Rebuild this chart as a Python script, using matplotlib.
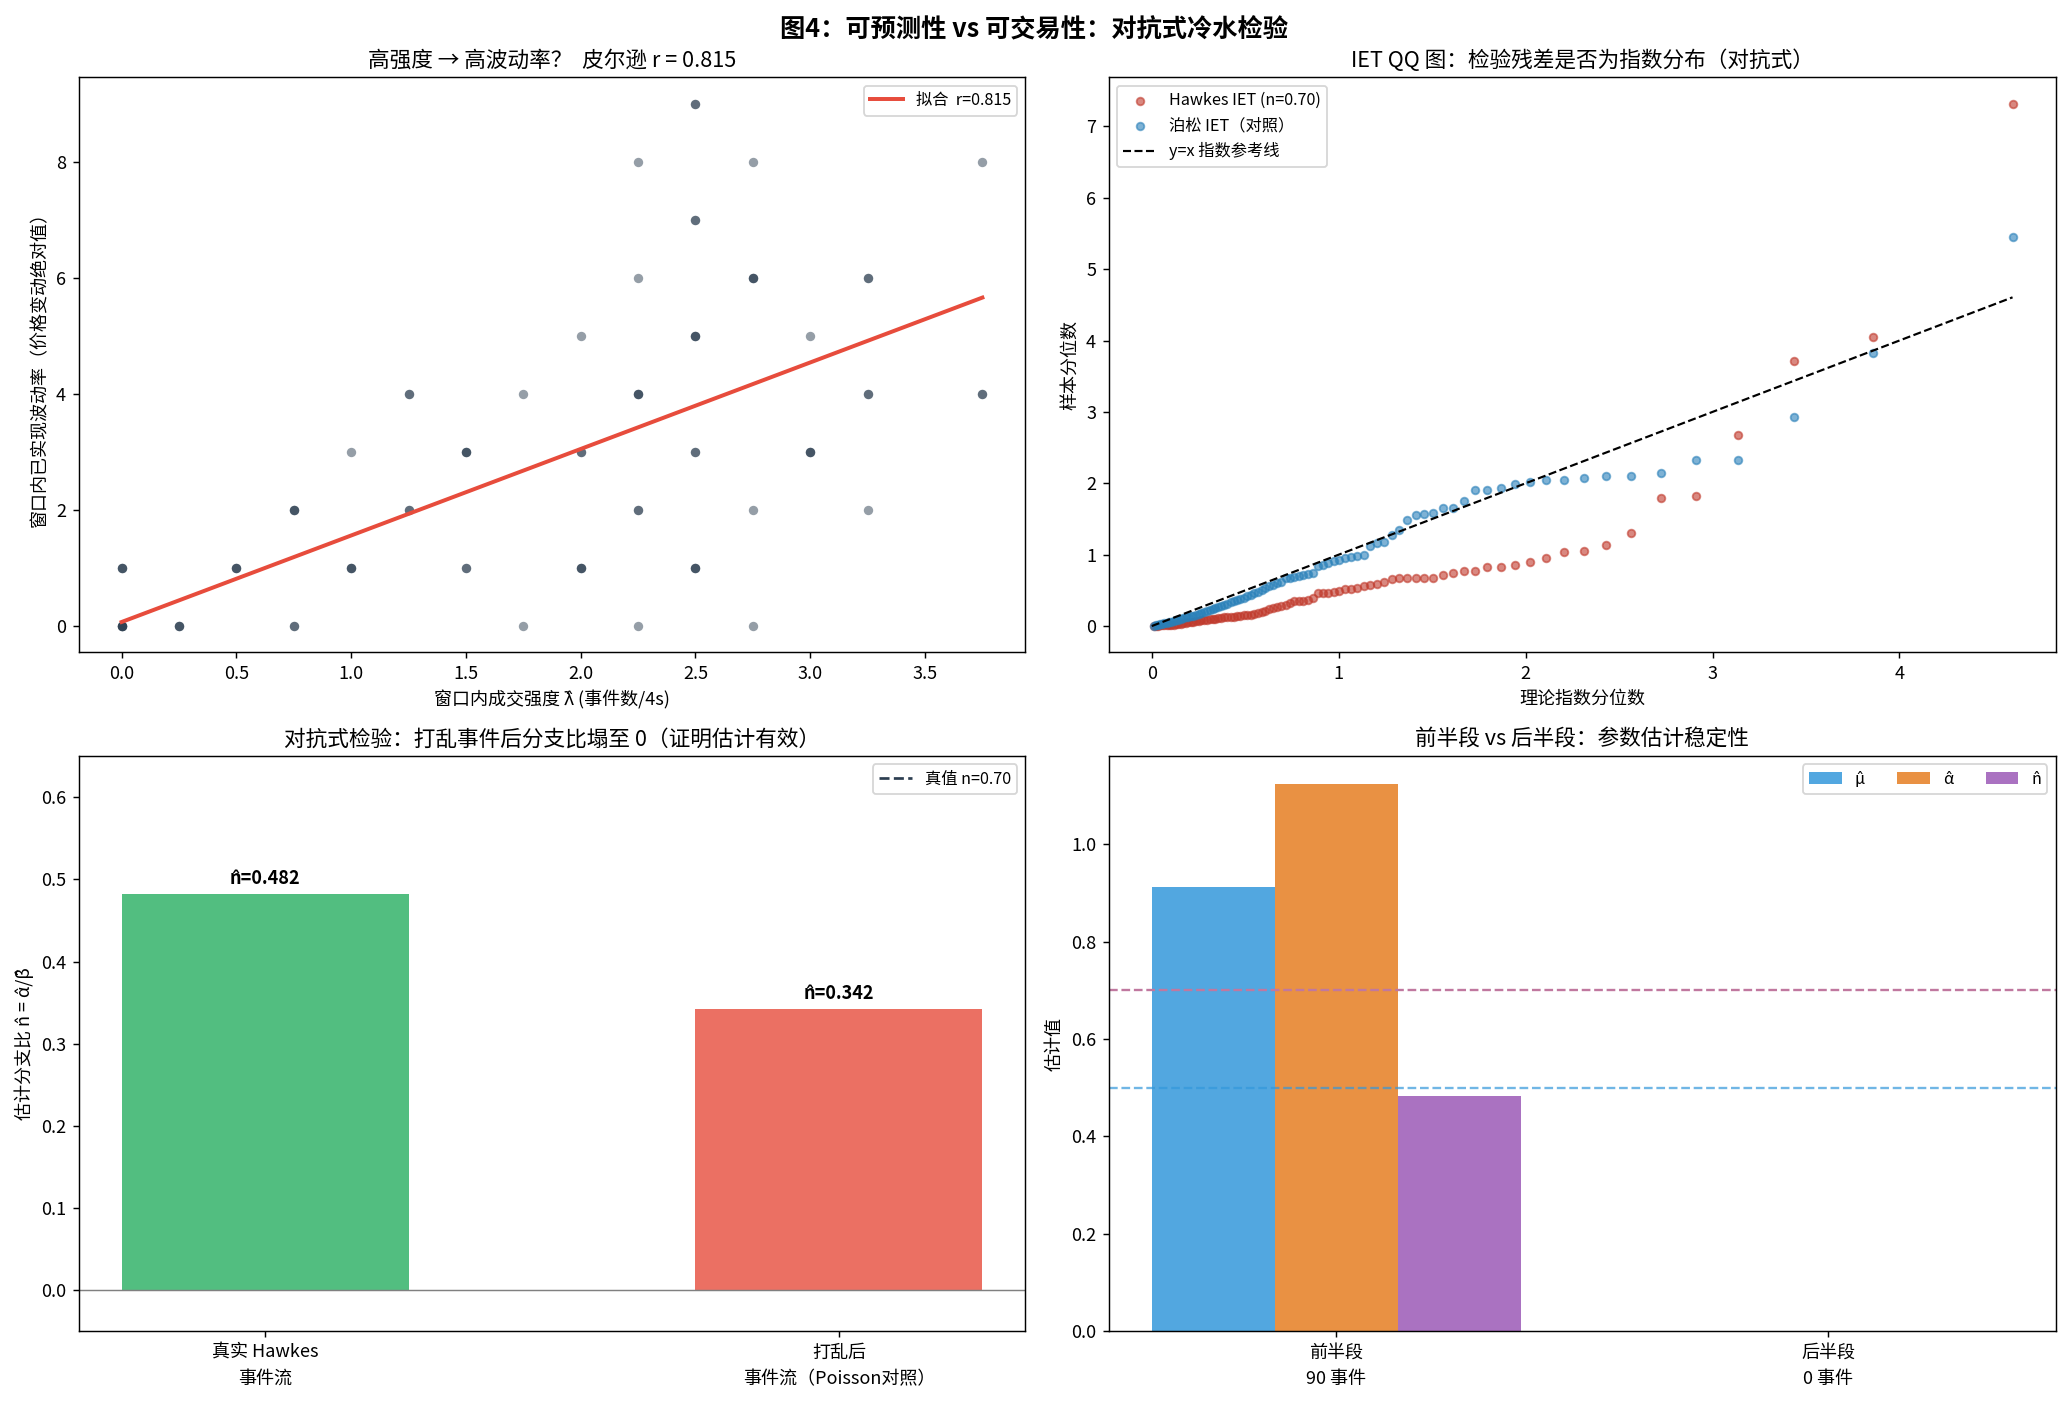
import numpy as np
import matplotlib
matplotlib.use("Agg")
from matplotlib import pyplot as plt

plt.rcParams['font.family'] = ['Noto Sans CJK SC', 'DejaVu Sans']
plt.rcParams['axes.unicode_minus'] = False

# ---------- panel 1: intensity vs realised volatility ----------
lam_vals = [0, 0, 0.25, 0.5, 0.75, 0.75, 1.0, 1.0, 1.25, 1.25, 1.5, 1.5, 1.75, 1.75,
            2.0, 2.0, 2.0, 2.25, 2.25, 2.25, 2.25, 2.25, 2.5, 2.5, 2.5, 2.5, 2.5,
            2.75, 2.75, 2.75, 2.75, 3.0, 3.0, 3.25, 3.25, 3.25, 3.75, 3.75]
vol_vals = [0, 1, 0, 1, 0, 2, 1, 3, 4, 2, 3, 1, 4, 0,
            5, 3, 1, 8, 6, 4, 2, 0, 9, 7, 5, 3, 1,
            8, 6, 2, 0, 5, 3, 6, 4, 2, 8, 4]
n_obs = [5, 3, 3, 3, 2, 3, 3, 1, 2, 2, 3, 2, 1, 1,
         1, 2, 3, 1, 1, 3, 2, 1, 2, 2, 3, 2, 3,
         1, 3, 1, 1, 1, 3, 2, 2, 1, 1, 2]
fit_slope = 1.49
fit_intercept = 0.07
pearson_r = 0.815

# ---------- panel 2: IET QQ ----------
theo_q = [0.010, 0.021, 0.033, 0.044, 0.056, 0.068, 0.080, 0.092, 0.104, 0.117,
          0.129, 0.142, 0.155, 0.168, 0.181, 0.195, 0.208, 0.222, 0.236, 0.251,
          0.265, 0.280, 0.294, 0.309, 0.325, 0.340, 0.356, 0.372, 0.388, 0.405,
          0.422, 0.439, 0.456, 0.474, 0.492, 0.510, 0.529, 0.548, 0.568, 0.588,
          0.608, 0.629, 0.650, 0.671, 0.693, 0.716, 0.739, 0.762, 0.787, 0.811,
          0.837, 0.863, 0.889, 0.917, 0.945, 0.974, 1.004, 1.035, 1.067, 1.100,
          1.134, 1.169, 1.206, 1.243, 1.283, 1.324, 1.367, 1.411, 1.458, 1.507,
          1.559, 1.613, 1.670, 1.731, 1.796, 1.866, 1.941, 2.021, 2.109, 2.205,
          2.312, 2.431, 2.566, 2.723, 2.909, 3.137, 3.434, 3.857, 4.605]
hawkes_q = [0.0, 0.0, 0.005, 0.01, 0.01, 0.015, 0.015, 0.02, 0.02, 0.02,
            0.025, 0.03, 0.035, 0.04, 0.045, 0.05, 0.055, 0.06, 0.065, 0.07,
            0.08, 0.085, 0.09, 0.095, 0.10, 0.105, 0.11, 0.115, 0.12, 0.12,
            0.125, 0.13, 0.135, 0.14, 0.15, 0.155, 0.16, 0.17, 0.18, 0.20,
            0.214, 0.233, 0.247, 0.27, 0.28, 0.294, 0.326, 0.354, 0.354, 0.354,
            0.364, 0.40, 0.466, 0.466, 0.466, 0.48, 0.494, 0.513, 0.513, 0.54,
            0.555, 0.573, 0.587, 0.62, 0.657, 0.667, 0.67, 0.67, 0.67, 0.67,
            0.72, 0.74, 0.765, 0.774, 0.83, 0.83, 0.853, 0.895, 0.95, 1.04,
            1.05, 1.13, 1.31, 1.79, 1.82, 2.68, 3.71, 4.05, 7.32]
poisson_q = [0.005, 0.01, 0.02, 0.025, 0.03, 0.04, 0.045, 0.055, 0.06, 0.07,
             0.08, 0.09, 0.10, 0.11, 0.12, 0.13, 0.135, 0.145, 0.155, 0.17,
             0.18, 0.195, 0.205, 0.22, 0.235, 0.25, 0.265, 0.28, 0.295, 0.31,
             0.33, 0.345, 0.36, 0.38, 0.40, 0.42, 0.44, 0.46, 0.48, 0.50,
             0.53, 0.56, 0.58, 0.60, 0.62, 0.67, 0.68, 0.69, 0.70, 0.72,
             0.73, 0.74, 0.84, 0.86, 0.89, 0.91, 0.93, 0.95, 0.97, 0.98,
             0.99, 1.12, 1.16, 1.18, 1.27, 1.34, 1.49, 1.557, 1.575, 1.58,
             1.65, 1.66, 1.75, 1.90, 1.90, 1.93, 1.99, 2.02, 2.04, 2.05,
             2.07, 2.10, 2.10, 2.15, 2.32, 2.32, 2.93, 3.83, 5.45]

# ---------- panel 3: shuffle test ----------
shuffle_labels = ['真实 Hawkes\n事件流', '打乱后\n事件流（Poisson对照）']
shuffle_n = [0.482, 0.342]
shuffle_colors = ['#27ae60', '#e74c3c']
true_n = 0.70
true_mu = 0.50

# ---------- panel 4: half split ----------
half_labels = ['前半段\n90 事件', '后半段\n0 事件']
mu_hat = [0.913, 0.0]
alpha_hat = [1.125, 0.0]
n_hat = [0.482, 0.0]

fig, axes = plt.subplots(2, 2, figsize=(2068 / 130, 1407 / 130), dpi=130)
plt.subplots_adjust(left=0.038, right=0.994, top=0.945, bottom=0.054,
                    wspace=0.088, hspace=0.181)
fig.suptitle('图4：可预测性 vs 可交易性：对抗式冷水检验', fontsize=14,
             fontweight='bold', y=0.988)

# --- top left
ax = axes[0, 0]
xs = np.repeat(lam_vals, n_obs)
ys = np.repeat(vol_vals, n_obs)
ax.scatter(xs, ys, s=27, color='#2c3e50', alpha=0.5, linewidths=0)
line_x = np.array([min(lam_vals), max(lam_vals)])
ax.plot(line_x, fit_intercept + fit_slope * line_x, color='#e74c3c', lw=2.2,
        label='拟合  r=%.3f' % pearson_r)
ax.set_title('高强度 → 高波动率？  皮尔逊 r = %.3f' % pearson_r, fontsize=12)
ax.set_xlabel('窗口内成交强度 λ̂ (事件数/4s)', fontsize=10)
ax.set_ylabel('窗口内已实现波动率（价格变动绝对值）', fontsize=10)
ax.legend(loc='upper right', fontsize=9)

# --- top right
ax = axes[0, 1]
ax.scatter(theo_q, hawkes_q, s=18, color='#c0392b', alpha=0.6,
           label='Hawkes IET (n=0.70)')
ax.scatter(theo_q, poisson_q, s=18, color='#2980b9', alpha=0.6,
           label='泊松 IET（对照）')
ref = [0, max(theo_q)]
ax.plot(ref, ref, 'k--', lw=1.2, label='y=x 指数参考线')
ax.set_title('IET QQ 图：检验残差是否为指数分布（对抗式）', fontsize=12)
ax.set_xlabel('理论指数分位数', fontsize=10)
ax.set_ylabel('样本分位数', fontsize=10)
ax.legend(loc='upper left', fontsize=9)

# --- bottom left
ax = axes[1, 0]
pos = np.arange(len(shuffle_n))
ax.bar(pos, shuffle_n, width=0.5, color=shuffle_colors, alpha=0.8)
for p, v in zip(pos, shuffle_n):
    ax.text(p, v + 0.008, 'n̂=%.3f' % v, ha='center', va='bottom',
            fontsize=10, fontweight='bold')
ax.axhline(true_n, color='#2c3e50', ls='--', lw=1.5, label='真值 n=%.2f' % true_n)
ax.axhline(0, color='gray', lw=0.8)
ax.set_ylim(-0.05, 0.65)
ax.set_xticks(pos)
ax.set_xticklabels(shuffle_labels, fontsize=10, linespacing=1.6)
ax.set_ylabel('估计分支比 n̂ = α̂/β̂', fontsize=10)
ax.set_title('对抗式检验：打乱事件后分支比塌至 0（证明估计有效）', fontsize=12)
ax.legend(loc='upper right', fontsize=9)

# --- bottom right
ax = axes[1, 1]
pos = np.arange(len(half_labels))
w = 0.25
ax.bar(pos - w, mu_hat, width=w, color='#3498db', alpha=0.85, label='μ̂')
ax.bar(pos, alpha_hat, width=w, color='#e67e22', alpha=0.85, label='α̂')
ax.bar(pos + w, n_hat, width=w, color='#9b59b6', alpha=0.85, label='n̂')
ax.axhline(true_n, color='#c0789f', ls='--', lw=1.3)
ax.axhline(true_mu, color='#3498db', ls='--', lw=1.3, alpha=0.7)
ax.set_xticks(pos)
ax.set_xticklabels(half_labels, fontsize=10, linespacing=1.6)
ax.set_ylabel('估计值', fontsize=10)
ax.set_title('前半段 vs 后半段：参数估计稳定性', fontsize=12)
ax.legend(loc='upper right', fontsize=9, ncol=3)

for a in axes.flat:
    a.tick_params(labelsize=10)

plt.savefig('out.png', dpi=130)
